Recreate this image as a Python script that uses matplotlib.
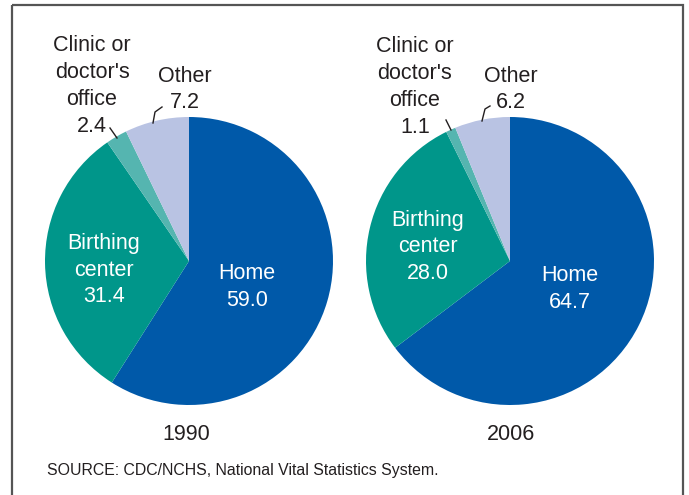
import matplotlib
matplotlib.use("Agg")
import matplotlib.pyplot as plt
from matplotlib.patches import Rectangle

plt.rcParams['font.family'] = ['Liberation Sans', 'DejaVu Sans']

categories = ["Home", "Birthing center", "Clinic or doctor's office", "Other"]
years = ["1990", "2006"]
values_1990 = [59.0, 31.4, 2.4, 7.2]
values_2006 = [64.7, 28.0, 1.1, 6.2]
colors = ["#0059A9", "#00968A", "#55B5B0", "#B9C3E3"]
source = "SOURCE: CDC/NCHS, National Vital Statistics System."

W, H = 689, 495
fig = plt.figure(figsize=(W / 100, H / 100), dpi=100)

def draw_pie(vals, cx, cy, r):
    pax = fig.add_axes([(cx - r) / W, 1 - (cy + r) / H, 2 * r / W, 2 * r / H])
    pax.pie(vals, colors=colors, startangle=90, counterclock=False,
            wedgeprops=dict(linewidth=0), radius=1)
    pax.set_xlim(-1, 1)
    pax.set_ylim(-1, 1)
    pax.axis('off')
    return pax

draw_pie(values_1990, 189, 261, 144)
draw_pie(values_2006, 510, 261, 144)

tax = fig.add_axes([0, 0, 1, 1], zorder=5)
tax.set_xlim(0, W)
tax.set_ylim(H, 0)
tax.axis('off')
tax.patch.set_alpha(0)

fs = 15.5
ls = 1.36
txt = "#231F20"

def fmt(v):
    return f"{v:.1f}"

def label(x, y, s, color=txt):
    tax.text(x, y, s, color=color, fontsize=fs, ha='center', va='center', linespacing=ls)

# 1990 labels
label(247, 287, f"Home\n{fmt(values_1990[0])}", "white")
label(104, 270, f"Birthing\ncenter\n{fmt(values_1990[1])}", "white")
label(92, 86, f"Clinic or\ndoctor's\noffice\n{fmt(values_1990[2])}")
label(185, 89.5, f"Other\n{fmt(values_1990[3])}")
tax.plot([110, 117], [128, 138], color=txt, lw=1)
tax.plot([162, 155, 153], [107, 112, 123], color=txt, lw=1)

# 2006 labels
label(570, 289, f"Home\n{fmt(values_2006[0])}", "white")
label(428, 247, f"Birthing\ncenter\n{fmt(values_2006[1])}", "white")
label(415, 87, f"Clinic or\ndoctor's\noffice\n{fmt(values_2006[2])}")
label(511, 89.5, f"Other\n{fmt(values_2006[3])}")
tax.plot([446, 451], [120, 130], color=txt, lw=1)
tax.plot([490, 485, 482], [106, 109, 121], color=txt, lw=1)

# Year labels
label(186, 434, years[0])
label(511, 434, years[1])

# Source
tax.text(47, 470, source, color=txt, fontsize=11.4, ha='left', va='center')

# Border
tax.add_patch(Rectangle((12, 5), 671, 520, fill=False, edgecolor="#555555", lw=1.6, clip_on=False))

fig.savefig("out.png", dpi=100)
